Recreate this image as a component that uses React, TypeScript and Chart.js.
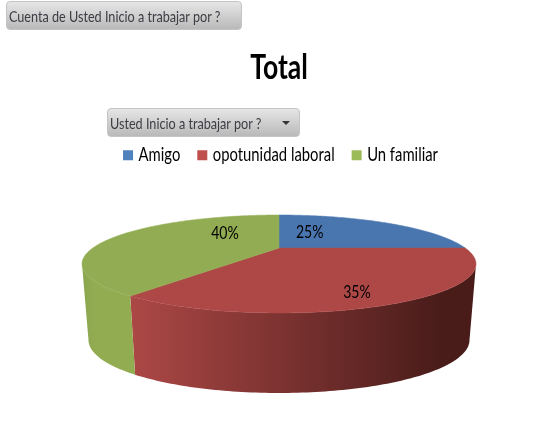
import React, { useEffect, useRef } from "react";
import { Chart, registerables } from "chart.js";

Chart.register(...registerables);

const categories = ["Amigo", "opotunidad laboral", "Un familiar"];
const shares = [25, 35, 40];
const sliceColors = ["#4A76AF", "#AE4846", "#92AC53"];
const legendColors = ["#4F81BD", "#C0504D", "#9BBB59"];
const wallFrom = ["#3A5C8A", "#AC4846", "#8AA64D"];
const wallTo = ["#3A5C8A", "#491C1A", "#92AC52"];
const labelSpots = [[0.27, 0.455], [0.535, 0.82], [0.72, 0.505]];

const FONT = 'Lato, "Open Sans", sans-serif';
const SQUEEZE = 0.78; // the reference text is horizontally condensed

// Perspective view of the disc: a top ellipse, a bottom ellipse and the apex offset.
const TOP = { cx: 279, cy: 264, rx: 197, ry: 49 };
const BOTTOM = { cx: 279, cy: 340, rx: 190.5, ry: 53 };
const SKEW = 0.327;

function project(theta: number, r: number) {
  const X = r * Math.sin(theta);
  const Y = -r * Math.cos(theta);
  const k = 1 - SKEW * Y;
  return { u: (X * Math.sqrt(1 - SKEW * SKEW)) / k, v: (Y - SKEW) / k };
}
const place = (e: typeof TOP, p: { u: number; v: number }) => ({
  x: e.cx + e.rx * p.u,
  y: e.cy + e.ry * p.v,
});

function condenseText(ctx: any) {
  const fill = ctx.fillText.bind(ctx);
  const measure = ctx.measureText.bind(ctx);
  ctx.fillText = (text: string, x: number, y: number) => {
    ctx.save();
    ctx.translate(x, y);
    ctx.scale(SQUEEZE, 1);
    fill(text, 0, 0);
    ctx.restore();
  };
  ctx.measureText = (text: string) => ({ width: measure(text).width * SQUEEZE });
}

const pie3d = {
  id: "pie3d",
  afterLayout(chart: any) {
    chart.legend.left += 3.5;
    chart.legend.right += 3.5;
  },
  beforeDatasetsDraw(chart: any) {
    const ctx = chart.ctx as CanvasRenderingContext2D;
    const arcs = chart.getDatasetMeta(0).data as any[];
    const spans = arcs.map((a) => [a.startAngle + Math.PI / 2, a.endAngle + Math.PI / 2]);
    const sample = (s: number[]) => {
      const n = Math.max(2, Math.ceil(((s[1] - s[0]) * 180) / Math.PI));
      return Array.from({ length: n + 1 }, (_, i) => s[0] + ((s[1] - s[0]) * i) / n);
    };
    ctx.save();
    spans.forEach((s, i) => {
      const pts = sample(s).map((t) => project(t, 1)).filter((p) => p.v >= -0.01);
      if (pts.length < 2) return;
      const tops = pts.map((p) => place(TOP, p));
      const bots = pts.map((p) => place(BOTTOM, p));
      const xs = tops.map((p) => p.x);
      const g = ctx.createLinearGradient(Math.min(...xs), 0, Math.max(...xs) - 35, 0);
      g.addColorStop(0, wallFrom[i]);
      g.addColorStop(1, wallTo[i]);
      ctx.fillStyle = g;
      ctx.beginPath();
      tops.forEach((p, j) => (j ? ctx.lineTo(p.x, p.y) : ctx.moveTo(p.x, p.y)));
      bots.reverse().forEach((p) => ctx.lineTo(p.x, p.y));
      ctx.closePath();
      ctx.fill();
    });
    spans.forEach((s, i) => {
      const apex = place(TOP, project(0, 0));
      ctx.fillStyle = sliceColors[i];
      ctx.strokeStyle = sliceColors[i];
      ctx.lineWidth = 0.5;
      ctx.beginPath();
      ctx.moveTo(apex.x, apex.y);
      sample(s).forEach((t) => {
        const p = place(TOP, project(t, 1));
        ctx.lineTo(p.x, p.y);
      });
      ctx.closePath();
      ctx.fill();
      ctx.stroke();
    });
    ctx.fillStyle = "#000";
    ctx.font = `18px ${FONT}`;
    ctx.textAlign = "center";
    ctx.textBaseline = "middle";
    const total = shares.reduce((a, b) => a + b, 0);
    spans.forEach((s, i) => {
      const [f, r] = labelSpots[i];
      const p = place(TOP, project(s[0] + (s[1] - s[0]) * f, r));
      ctx.fillText(`${Math.round((shares[i] / total) * 100)}%`, p.x, p.y);
    });
    ctx.restore();
    return false;
  },
};

const condensed: React.CSSProperties = {
  display: "inline-block",
  transform: `scaleX(${SQUEEZE})`,
  transformOrigin: "left center",
};

export default function App() {
  const ref = useRef<HTMLCanvasElement>(null);
  useEffect(() => {
    const canvas = ref.current as HTMLCanvasElement;
    condenseText(canvas.getContext("2d"));
    const chart = new Chart(canvas, {
      type: "pie",
      data: {
        labels: categories,
        datasets: [{ data: shares, backgroundColor: sliceColors, borderWidth: 0 }],
      },
      plugins: [pie3d],
      options: {
        animation: false,
        responsive: false,
        layout: { padding: { left: 3, bottom: 72 } },
        plugins: {
          tooltip: { enabled: false },
          title: {
            display: true,
            text: "Total",
            color: "#000",
            font: { family: FONT, size: 34, weight: "bold" },
            padding: { top: 48, bottom: 36 },
          },
          legend: {
            position: "top",
            labels: {
              color: "#000",
              font: { family: FONT, size: 19 },
              boxWidth: 2,
              boxHeight: 2,
              padding: 21,
              generateLabels: () =>
                categories.map((text, i) => ({
                  text,
                  fillStyle: legendColors[i],
                  strokeStyle: legendColors[i],
                  lineWidth: 8,
                  index: i,
                  hidden: false,
                })),
            },
          },
        },
      },
    } as any);
    return () => chart.destroy();
  }, []);

  const button: React.CSSProperties = {
    position: "absolute",
    boxSizing: "border-box",
    height: 29,
    borderRadius: 4,
    border: "1px solid #c4c4c4",
    background: "linear-gradient(#e6e6e6, #b9b9b9)",
    color: "#3c3c44",
    font: `16.2px ${FONT}`,
    lineHeight: "27px",
    paddingLeft: 2,
    whiteSpace: "nowrap",
    overflow: "hidden",
  };

  return (
    <div style={{ position: "absolute", left: 0, top: 0, width: 555, height: 435, background: "#fff", overflow: "hidden" }}>
      <canvas ref={ref} width={555} height={435} style={{ display: "block" }} />
      <div style={{ ...button, left: 6, top: 1, width: 236 }}>
        <span style={condensed}>Cuenta de Usted Inicio a trabajar por ?</span>
      </div>
      <div style={{ ...button, left: 107, top: 108, width: 193 }}>
        <span style={condensed}>Usted Inicio a trabajar por ?</span>
        <span
          style={{
            position: "absolute",
            right: 9,
            top: 12,
            width: 0,
            height: 0,
            borderLeft: "4px solid transparent",
            borderRight: "4px solid transparent",
            borderTop: "4px solid #333",
          }}
        />
      </div>
    </div>
  );
}
